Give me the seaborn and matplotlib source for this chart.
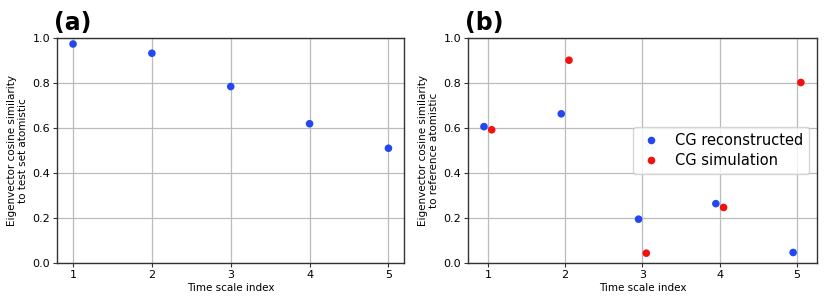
import numpy as np
import pandas as pd
import seaborn as sns
import matplotlib.pyplot as plt

sns.set_style('whitegrid')
plt.rcParams['font.family'] = ['DejaVu Sans']
plt.rcParams['text.color'] = 'black'
plt.rcParams['axes.labelcolor'] = 'black'
plt.rcParams['xtick.color'] = 'black'
plt.rcParams['ytick.color'] = 'black'

# panel (a)
time_idx = [1, 2, 3, 4, 5]
sim_test = [0.973, 0.932, 0.784, 0.619, 0.510]

# panel (b)
cg_recon = [0.606, 0.663, 0.195, 0.264, 0.047]
cg_sim = [0.592, 0.901, 0.044, 0.247, 0.802]
offset = 0.05

blue = '#2347f2'
red = '#f21010'

fig = plt.figure(figsize=(8.3, 3.01), dpi=100)
ax1 = fig.add_axes([0.069, 0.126, 0.418, 0.748])
ax2 = fig.add_axes([0.564, 0.126, 0.420, 0.748])

df_a = pd.DataFrame({'x': time_idx, 'y': sim_test})
sns.scatterplot(data=df_a, x='x', y='y', ax=ax1, color=blue, s=30,
                edgecolor='none', zorder=3)

df_b = pd.DataFrame({
    'x': np.concatenate([np.array(time_idx) - offset, np.array(time_idx) + offset]),
    'y': cg_recon + cg_sim,
    'kind': ['CG reconstructed'] * 5 + ['CG simulation'] * 5,
})
sns.scatterplot(data=df_b, x='x', y='y', hue='kind', ax=ax2,
                palette=[blue, red], s=30, edgecolor='none', zorder=3)

ylabels = ['Eigenvector cosine similarity\nto test set atomistic',
           'Eigenvector cosine similarity\nto reference atomistic']
for ax, lab, yl in zip([ax1, ax2], ['(a)', '(b)'], ylabels):
    ax.set_ylim(0, 1)
    ax.set_xticks(time_idx)
    ax.set_yticks(np.arange(0, 1.01, 0.2))
    ax.set_xlabel('Time scale index', fontsize=7.5, labelpad=2)
    ax.set_ylabel(yl, fontsize=7.5, labelpad=3)
    ax.tick_params(labelsize=8, length=3, width=0.8, color='#333333',
                   bottom=True, left=True, pad=2)
    ax.grid(True, color='#b8bdbb', linewidth=0.9)
    for sp in ax.spines.values():
        sp.set_edgecolor('#333333')
        sp.set_linewidth(1.0)
    ax.text(-0.01, 1.015, lab, transform=ax.transAxes, fontsize=17,
            fontweight='bold', ha='left', va='bottom')

ax2.legend(loc='center right', fontsize=10.5, frameon=True,
           handlelength=1.6, handletextpad=0.9, borderpad=0.4,
           labelspacing=0.3)

fig.savefig('out.png', dpi=100)
